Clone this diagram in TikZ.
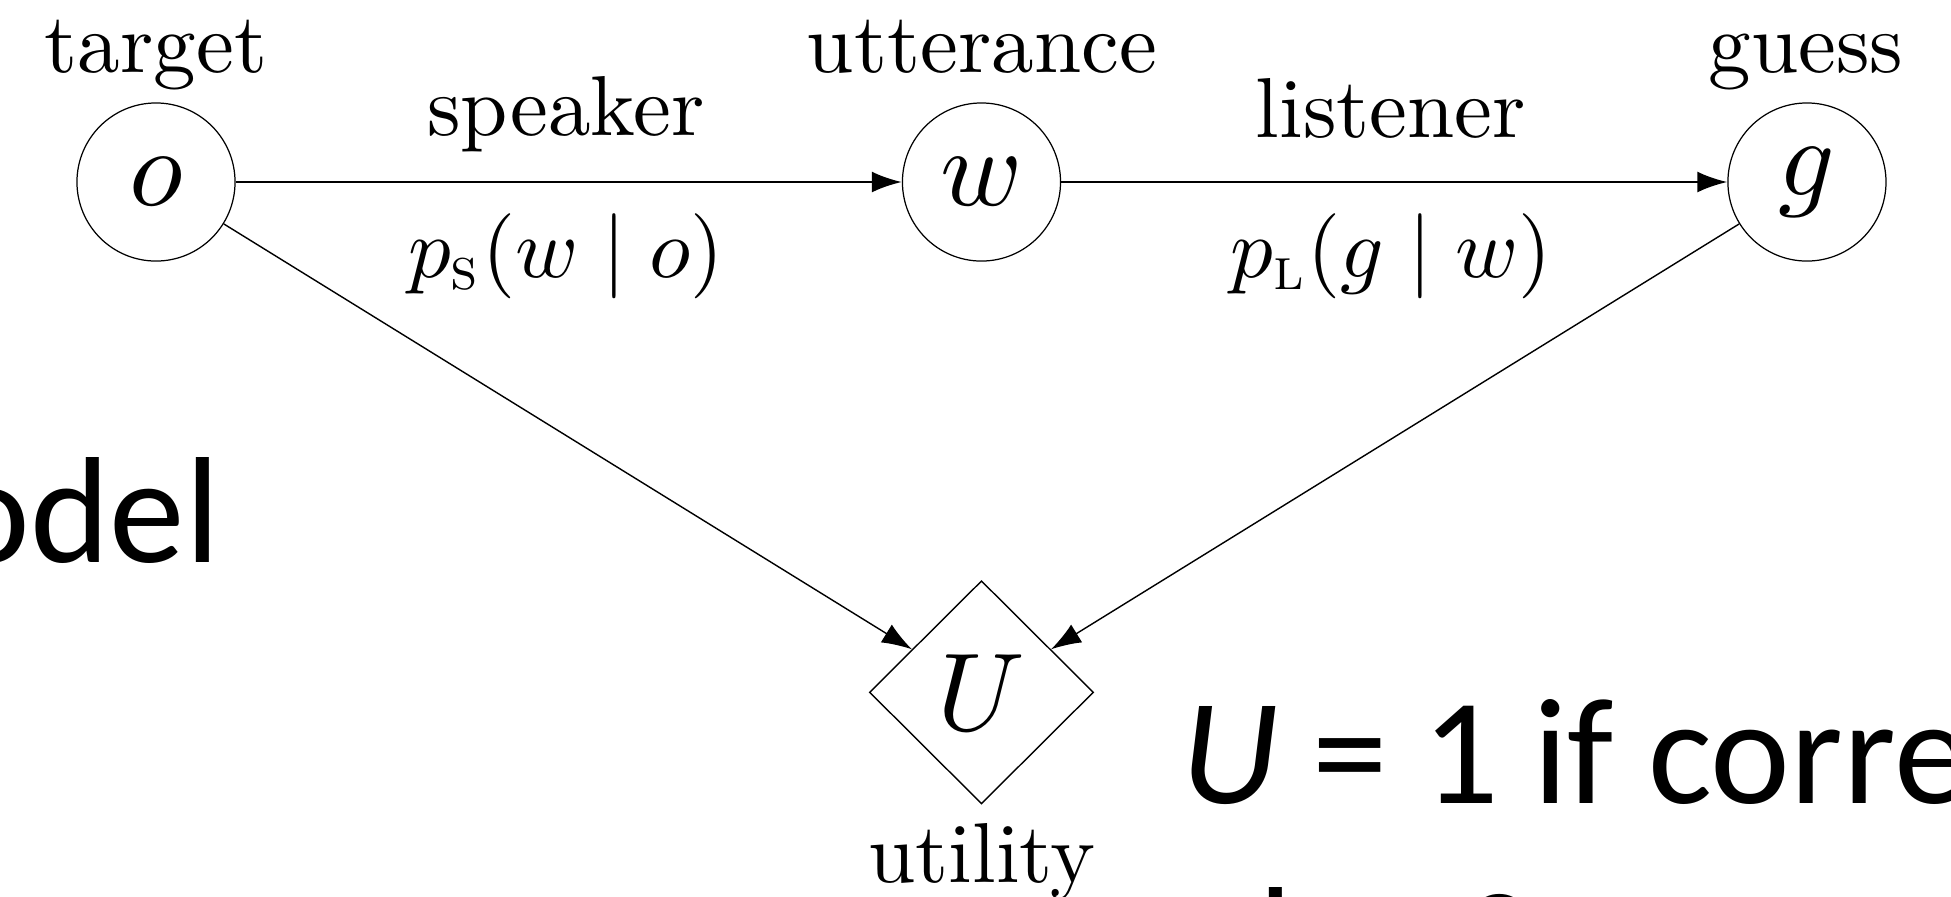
\RequirePackage{fix-cm}
\documentclass[tikz,border=0pt]{standalone}
\usepackage{amsmath}
\usepackage{fontspec}
\newfontfamily\slidefont{Carlito}
\usetikzlibrary{shapes.geometric, arrows.meta}

% figure text: 10pt design sizes, blown up as in the slide
\newcommand{\figtext}[1]{\scalebox{2.42}{#1}}
\newcommand{\vartext}[1]{\scalebox{3.15}{#1}}

\begin{document}
\begin{tikzpicture}[x=0.01cm, y=-0.01cm, node distance=8.25cm, font=\fontsize{10}{12}\selectfont]
  \tikzstyle{var} = [circle, draw, line width=0.35pt, minimum size=1.58cm, inner sep=0pt]
  \tikzstyle{util} = [diamond, draw, line width=0.4pt, minimum width=2.24cm, minimum height=2.23cm, inner sep=0pt]
  \tikzstyle{lbl} = [anchor=base, inner sep=0pt]
  \tikzstyle{arrow} = [-{Latex[length=3mm, width=2.1mm]}, line width=0.7pt]
  \tikzstyle{slide} = [anchor=base west, inner sep=0pt, font=\slidefont\fontsize{43}{52}\selectfont]

  \clip (0,0) rectangle (1951,896);

  \node[var] (o) at (156,182) {\vartext{$o$}};
  \node[var, right of=o] (w) {\vartext{$w$}};
  \node[var, right of=w] (g) {\vartext{$g$}};
  \node[util, below of=w, node distance=5.1cm] (U) {\vartext{$U$}};

  \node[lbl] (target) at (156,72) {\figtext{target}};
  \node[lbl] (utter) at (982,72) {\figtext{utterance}};
  \node[lbl] (guess) at (1806,72) {\figtext{guess}};
  \node[lbl] (utility) at (982,882) {\figtext{utility}};
  \node[lbl] (spk) at (566,135) {\figtext{speaker}};
  \node[lbl] (ps) at (566,277) {\figtext{$p_{\text{\textsc{s}}}(w \mid o)$}};
  \node[lbl] (lst) at (1391,137) {\figtext{listener}};
  \node[lbl] (pl) at (1391,277) {\figtext{$p_{\text{\textsc{l}}}(g \mid w)$}};

  \draw[arrow] (o) -- (w);
  \draw[arrow] (w) -- (g);
  \draw[arrow, line width=0.4pt] (o) -- (U);
  \draw[arrow, line width=0.4pt] (g) -- (U);

  % slide text around the figure
  \node[slide] (model) at (-50,562) {odel};
  \node[slide] (rule) at (1181,803) {\textit{U} = 1 if corre};
  \node[slide] (rule2) at (1182,992) {else 0};
\end{tikzpicture}
\end{document}
